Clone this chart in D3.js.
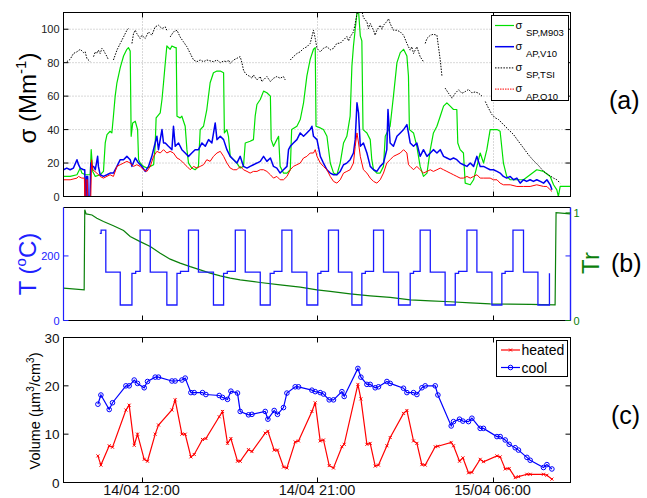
<!DOCTYPE html>
<html><head><meta charset="utf-8">
<script src="https://cdn.jsdelivr.net/npm/d3@7"></script>
<style>body{margin:0;background:#fff}svg{display:block}text{font-family:"Liberation Sans",Arial,sans-serif}</style>
</head><body><svg id="chart" width="647" height="498"></svg>
<script>
// ---------- DATA (time in hours since 14/04 00:00) ----------
const xTickHours = [12, 21, 30];
const sigmaTicks = [0, 20, 40, 60, 80, 100];
const tempTicks = [0, 200];
const trTicks = [0, 1];
const volTicks = [0, 10, 20, 30];

const m903 = [[8.00,12],[8.34,12],[8.69,13],[8.86,17],[8.94,14],[9.11,13],[9.37,13],[9.42,28],[9.50,15],[9.63,12],[9.88,13],[10.05,15],[10.14,32],[10.23,37],[10.39,39],[10.48,38],[10.56,48],[10.65,60],[10.74,68],[10.91,77],[11.08,84],[11.25,88],[11.33,89],[11.42,87],[11.47,36],[11.55,44],[11.68,45],[11.80,40],[11.85,22],[11.93,20],[12.10,18],[12.28,17],[12.45,18],[12.62,19],[12.70,30],[12.75,47],[12.96,50],[13.05,58],[13.13,68],[13.22,80],[13.30,90],[13.47,88],[13.56,90],[13.73,89],[13.78,89],[13.82,48],[13.98,47],[14.07,48],[14.24,42],[14.33,28],[14.41,20],[14.58,17],[14.75,16],[14.92,18],[15.01,40],[15.18,42],[15.35,52],[15.52,68],[15.69,74],[15.87,75],[16.04,75],[16.21,74],[16.25,38],[16.38,40],[16.46,36],[16.55,24],[16.72,22],[16.89,20],[17.06,17],[17.23,18],[17.32,32],[17.57,33],[17.74,34],[17.83,48],[17.92,55],[18.09,58],[18.26,63],[18.43,62],[18.61,60],[18.65,34],[18.77,30],[18.94,34],[19.03,36],[19.11,18],[19.28,14],[19.46,14],[19.63,16],[19.70,40],[19.97,42],[20.14,46],[20.31,56],[20.48,72],[20.65,82],[20.82,88],[20.91,89],[20.95,42],[21.17,41],[21.33,40],[21.51,36],[21.68,20],[21.85,14],[22.02,13],[22.19,20],[22.36,32],[22.53,36],[22.70,48],[22.79,78],[22.87,90],[22.96,100],[23.05,110],[23.13,111],[23.22,96],[23.30,93],[23.36,40],[23.56,38],[23.73,34],[23.81,22],[23.90,16],[24.07,14],[24.24,14],[24.41,18],[24.50,36],[24.67,40],[24.75,42],[24.92,60],[25.10,80],[25.27,86],[25.44,88],[25.61,84],[25.69,72],[25.74,40],[25.95,38],[26.12,30],[26.29,18],[26.46,12],[26.64,14],[26.81,28],[26.97,38],[27.15,42],[27.32,48],[27.49,54],[27.66,56],[27.83,54],[28.00,52],[28.17,52],[28.22,32],[28.34,28],[28.51,26],[28.60,8],[28.86,7],[29.03,10],[29.20,18],[29.37,26],[29.54,20],[29.71,28],[29.88,40],[30.05,40],[30.23,40],[30.39,39],[30.56,20],[30.73,12],[30.91,10],[31.25,10],[31.59,10],[31.93,13],[32.27,16],[32.62,15],[32.96,12],[33.13,7],[33.30,4],[33.38,0],[33.47,6],[33.98,6]];

const v10 = [[8.00,16],[8.17,17],[8.34,16],[8.51,17],[8.69,22],[8.77,19],[8.86,17],[9.03,16],[9.09,16],[9.11,0],[9.16,0],[9.18,12],[9.24,12],[9.26,0],[9.36,0],[9.40,20],[9.46,18],[9.54,18],[9.63,16],[9.75,24],[9.79,18],[9.88,13],[10.05,12],[10.23,13],[10.39,14],[10.56,14],[10.74,18],[10.91,22],[11.08,22],[11.25,24],[11.42,22],[11.51,18],[11.68,23],[11.85,20],[12.02,18],[12.19,15],[12.36,18],[12.53,24],[12.70,32],[12.79,36],[12.87,28],[13.05,40],[13.13,32],[13.22,32],[13.38,30],[13.56,28],[13.64,42],[13.73,30],[13.90,32],[14.07,28],[14.24,26],[14.41,24],[14.58,26],[14.75,28],[14.92,28],[15.10,32],[15.27,30],[15.44,34],[15.61,32],[15.78,44],[15.87,34],[16.04,36],[16.21,34],[16.38,28],[16.55,24],[16.72,22],[16.89,20],[17.06,24],[17.23,18],[17.41,17],[17.57,18],[17.74,19],[17.92,20],[18.09,21],[18.26,24],[18.43,21],[18.61,23],[18.77,18],[18.94,17],[19.11,14],[19.28,16],[19.46,18],[19.54,28],[19.63,30],[19.79,32],[19.97,34],[20.14,38],[20.31,36],[20.48,38],[20.65,40],[20.74,42],[20.82,36],[21.00,34],[21.17,24],[21.33,20],[21.51,16],[21.68,14],[21.85,13],[22.02,13],[22.19,15],[22.36,19],[22.53,20],[22.70,22],[22.87,26],[22.96,34],[23.05,56],[23.13,50],[23.22,30],[23.38,32],[23.56,26],[23.73,18],[23.90,16],[24.07,15],[24.24,18],[24.41,20],[24.58,28],[24.64,52],[24.75,32],[24.92,30],[25.10,36],[25.27,38],[25.44,40],[25.61,43],[25.69,38],[25.78,32],[25.95,30],[26.12,32],[26.29,24],[26.46,28],[26.64,24],[26.81,26],[26.97,28],[27.15,26],[27.32,28],[27.49,24],[27.66,23],[27.83,22],[28.00,23],[28.17,22],[28.34,20],[28.51,19],[28.69,18],[28.86,20],[29.03,18],[29.20,24],[29.28,21],[29.37,18],[29.54,18],[29.71,17],[29.88,16],[30.05,16],[30.23,15],[30.39,14],[30.56,12],[30.73,11],[30.91,12],[31.08,10],[31.25,11],[31.42,8],[31.59,10],[31.75,9],[31.93,10],[32.10,9],[32.27,10],[32.45,9],[32.62,8],[32.79,10],[32.96,7],[33.05,4]];

const tsi = [[8.17,80.6],[8.34,82],[8.51,85.5],[8.69,86.5],[8.86,88],[9.03,86],[9.11,86.5],[9.20,82.5],[9.37,80.6],null,
[9.54,83.6],[9.63,86.5],[9.71,85.5],[9.79,87.5],[9.88,85.5],[9.97,88.5],[10.05,87.5],[10.14,85.5],[10.23,83.6],[10.31,81.6],null,
[10.56,81.6],[10.74,87.5],[10.91,91.5],[11.08,95.4],[11.25,99.4],[11.33,100.4],null,
[11.51,91.5],[11.59,97.4],[11.68,99.4],[11.76,97.4],[11.93,94.5],[12.02,96.4],[12.19,94.5],[12.36,98.4],[12.53,96.4],[12.70,101.4],[12.87,102.4],[13.05,100.4],[13.22,101.4],[13.30,99.4],null,
[13.47,95.4],[13.64,98.4],[13.82,99.4],[13.98,95.4],[14.15,92.5],[14.33,89.5],[14.50,85.5],[14.67,81.6],[14.84,80.6],[15.01,81.6],[15.18,80.6],[15.35,81.6],[15.69,80.6],[15.87,81.6],[16.04,80],[16.21,81],[16.38,80.6],[16.46,81.6],[16.55,79.6],[16.72,81.6],[16.89,82.6],[17.06,83.6],[17.15,80],[17.23,75.6],[17.32,73.7],[17.41,72.7],[17.57,71.7],[17.66,70.7],[17.74,72.7],[17.92,69.7],[18.09,71.7],[18.17,68.7],[18.26,69.7],[18.43,71.7],[18.61,68.7],[18.77,70.7],[18.94,71.7],[19.11,70.7],[19.28,71.7],[19.37,69.7],null,
[19.63,81.6],[19.79,83.6],[19.97,85.5],[20.14,86.5],[20.31,88.5],[20.48,89.5],[20.65,91.5],[20.82,99.4],[20.91,94.5],[21.00,88.5],[21.17,86.5],[21.33,88.6],[21.51,89.6],[21.68,87.7],[21.85,88.6],[22.02,91.6],[22.19,91.6],[22.36,93.6],[22.53,95.6],[22.62,93],[22.70,95.4],[22.79,97],[22.87,98.4],[22.96,103.4],[23.05,109],[23.13,112],[23.22,112],[23.30,111],[23.38,107],[23.56,104.4],[23.64,100.4],[23.73,103.4],[23.90,99.4],[23.98,96.4],[24.07,99.4],[24.24,102.4],[24.33,100],[24.41,102.4],[24.58,104.6],[24.67,106.3],[24.75,103.4],[24.92,99.4],[25.10,99.4],[25.27,98.4],[25.44,96.4],[25.61,91.5],[25.69,89.5],[25.78,87.5],[25.86,89.5],[25.95,85.5],[26.12,89.5],[26.29,83.6],[26.46,80.6],null,
[26.55,91.5],[26.64,94.5],[26.81,96.4],[26.97,97],[27.15,96.4],[27.23,89.5],[27.32,81.6],[27.41,71.7],null,
[27.57,64.8],[27.74,61.8],[27.92,58.8],[28.09,61.7],[28.26,63.8],[28.43,61.7],[28.60,62.7],[28.77,64],[28.94,62],[29.11,62.5],[29.28,61.8],[29.46,60],null,
[29.63,56.8],[29.79,52.9],[29.97,49],[30.14,47],[30.31,46],[30.56,43],[30.82,40],[31.08,37],[31.33,33],[31.59,29],[31.84,25],[32.10,21.5],[32.36,18.5],[32.62,15],[32.87,13],[33.13,11],[33.30,10],[33.47,8]];

const o10 = [[8.00,10],[8.34,10],[8.69,11],[8.77,12],[8.94,11],[9.07,11],[9.09,0],[9.14,0],[9.16,10],[9.22,10],[9.24,0],[9.40,0],[9.44,22],[9.50,16],[9.71,14],[9.88,12],[10.05,11],[10.39,13],[10.56,12],[10.74,18],[10.91,19],[11.08,20],[11.25,21],[11.42,20],[11.59,18],[11.76,19],[11.93,18],[12.10,16],[12.28,15],[12.45,18],[12.62,24],[12.79,27],[12.96,26],[13.13,28],[13.30,26],[13.47,27],[13.64,26],[13.82,23],[13.98,22],[14.15,20],[14.33,18],[14.50,16],[14.67,18],[14.84,17],[15.01,18],[15.18,19],[15.35,22],[15.52,21],[15.69,24],[15.87,26],[16.04,27],[16.21,24],[16.38,20],[16.55,17],[16.72,16],[16.89,16],[17.06,18],[17.23,16],[17.41,15],[17.57,14],[17.74,15],[17.92,15],[18.09,16],[18.26,16],[18.43,15],[18.61,13],[18.77,11],[18.94,12],[19.11,10],[19.28,10],[19.46,12],[19.63,16],[19.79,18],[19.97,19],[20.14,20],[20.31,23],[20.48,24],[20.65,26],[20.82,26],[20.91,28],[21.00,24],[21.17,20],[21.33,18],[21.51,16],[21.68,12],[21.85,9],[22.02,8],[22.19,10],[22.36,14],[22.53,15],[22.70,16],[22.87,20],[22.96,30],[23.05,38],[23.13,32],[23.22,24],[23.38,16],[23.56,14],[23.73,11],[23.90,9],[24.07,8],[24.24,10],[24.41,14],[24.58,20],[24.75,22],[24.92,24],[25.10,25],[25.27,26],[25.44,28],[25.61,26],[25.69,19],[25.78,18],[25.95,16],[26.12,18],[26.29,16],[26.46,14],[26.64,15],[26.81,16],[26.97,15],[27.15,16],[27.32,17],[27.49,16],[27.66,15],[27.83,14],[28.00,13],[28.17,12],[28.34,11],[28.51,11],[28.69,12],[28.86,11],[29.03,12],[29.20,13],[29.37,11],[29.54,11],[29.88,11],[30.05,10],[30.23,10],[30.39,8],[30.56,7],[30.91,7],[31.25,6],[31.59,6],[31.93,6],[32.27,7],[32.62,6],[32.79,6],[32.96,4],[33.05,3]];

// Panel (b): heater temperature (step levels) and transmission
const tempSteps = [[9.86,270],[9.93,280],[10.17,150],[10.91,48],[11.51,146],[11.70,152],
[11.93,280],[12.45,150],[13.30,48],[13.82,146],[14.00,152],
[14.41,280],[14.92,150],[15.69,48],[16.21,146],[16.40,152],
[16.81,280],[17.32,150],[18.09,48],[18.60,146],[18.80,152],
[19.20,280],[19.71,150],[20.48,48],[21.04,146],[21.20,152],
[21.59,280],[22.10,150],[22.79,48],[23.30,146],[23.48,152],
[23.90,280],[24.41,150],[25.18,48],[25.78,146],[25.95,152],
[26.29,280],[26.81,150],[27.57,48],[28.09,146],[28.26,152],
[28.69,280],[29.20,150],[29.97,48],[30.48,146],[30.65,152],
[31.05,280],[31.59,150],[32.33,48],[32.92,146]];

const trans = [[8.00,0.30],[9.06,0.285],[9.09,1.03],[9.16,0.99],[9.46,0.98],[9.71,0.95],[10.05,0.92],[10.56,0.88],[11.08,0.836],[11.42,0.78],[11.93,0.733],[12.45,0.687],[12.96,0.625],[13.47,0.57],[13.98,0.533],[14.50,0.50],[15.01,0.47],[15.52,0.44],[16.04,0.415],[16.55,0.394],[17.06,0.378],[18.09,0.353],[19.11,0.331],[20.14,0.31],[21.00,0.285],[21.68,0.27],[22.70,0.248],[23.73,0.229],[24.75,0.214],[25.78,0.192],[26.81,0.183],[27.83,0.174],[28.86,0.164],[29.88,0.155],[30.91,0.152],[31.93,0.149],[33.21,0.146],[33.26,1.003],[33.98,0.99]];

// Panel (c): volume
const volHours = [9.764,9.918,10.344,10.513,11.200,11.369,11.626,11.795,12.138,12.308,12.703,12.872,13.559,13.728,14.072,14.241,14.533,14.703,15.128,15.303,15.985,16.154,16.410,16.585,16.923,17.062,17.487,17.662,18.344,18.482,18.805,18.974,19.282,19.456,19.882,20.051,20.738,20.908,21.164,21.333,21.626,21.846,22.277,22.395,23.097,23.251,23.559,23.728,23.985,24.154,24.585,24.754,25.436,25.610,25.949,26.123,26.379,26.549,27.062,27.200,27.882,28.000,28.308,28.482,28.769,28.944,29.369,29.538,30.226,30.395,30.651,30.856,31.164,31.333,31.764,31.933,32.615,32.790,33.046];
const cool = [16.2,18.1,15.1,16.5,20.0,20.0,21.2,20.5,19.6,20.9,21.8,21.8,21.0,21.0,21.2,21.6,18.6,18.6,18.6,18.2,18.0,17.6,17.2,18.9,18.5,14.7,14.0,14.1,14.7,13.1,14.9,14.1,15.5,18.5,19.8,19.8,19.1,18.8,18.6,18.3,17.1,17.1,18.8,17.8,23.6,21.8,20.3,20.3,19.6,19.8,20.9,20.5,19.5,18.6,18.6,18.2,19.6,20.0,20.0,18.1,11.7,12.6,13.1,12.7,12.6,13.3,11.2,11.2,9.5,9.5,8.8,7.9,7.2,6.7,5.2,4.6,3.1,3.7,2.8];
const heated = [5.5,3.6,7.6,7.3,15.0,16.0,7.7,10.0,4.8,4.4,10.0,11.9,15.0,17.1,10.0,10.0,5.3,5.8,8.9,9.1,13.6,14.7,8.1,9.1,4.4,4.4,6.8,6.4,10.2,10.6,6.7,6.7,3.2,3.0,8.4,8.6,14.7,16.5,8.6,8.8,3.5,3.0,7.4,7.9,20.3,17.3,7.9,8.1,3.4,3.6,7.6,9.3,14.3,14.9,8.6,8.1,3.7,3.6,7.4,7.5,8.3,7.6,4.4,5.1,2.0,2.1,4.8,4.3,5.5,5.3,2.8,2.9,1.0,1.2,1.7,1.7,1.7,1.5,0.7];

const seriesA = [
  {name:"SP,M903", data:m903, color:"#00e000", width:1.2, dash:null},
  {name:"AP,V10",  data:v10,  color:"#0000f0", width:1.5, dash:null},
  {name:"SP,TSI",  data:tsi,  color:"#000000", width:1.0, dash:"1.5,1.3"},
  {name:"AP,O10",  data:o10,  color:"#ff0000", width:1.0, dash:null}
];

// ---------- SCALES ----------
const base = Date.UTC(2012,3,14);
const T = h => new Date(base + h*3600000);
const x = d3.scaleUtc().domain([T(8),T(34)]).range([63.5,570.5]);
const ya = d3.scaleLinear().domain([0,110]).range([196.5,12.5]);
const ybL = d3.scaleLinear().domain([0,350]).range([320.5,207.5]);
const ybR = d3.scaleLinear().domain([0,1.05]).range([320.5,207.5]);
const yc = d3.scaleLinear().domain([0,30]).range([482.5,337.5]);
const fmt = d3.utcFormat("%d/%m %H:%M");

const svg = d3.select("#chart");
const X0 = x.range()[0], X1 = x.range()[1];
const TL = 5;

function xTicks(yTop, yBot, color){
  xTickHours.forEach(h=>{
    const px = Math.round(x(T(h)))+0.5;
    svg.append("line").attr("x1",px).attr("x2",px).attr("y1",yTop).attr("y2",yTop+TL).attr("stroke",color||"#000");
    svg.append("line").attr("x1",px).attr("x2",px).attr("y1",yBot).attr("y2",yBot-TL).attr("stroke",color||"#000");
  });
}
function yTicks(scale, vals, side, color){
  vals.forEach(v=>{
    const py = scale(v);
    const xa = side==="left"?X0:X1, xb = side==="left"?X0+TL:X1-TL;
    svg.append("line").attr("x1",xa).attr("x2",xb).attr("y1",py).attr("y2",py).attr("stroke",color);
  });
}

// ---------- PANEL A ----------
svg.append("defs").append("clipPath").attr("id","clipA").append("rect")
  .attr("x",X0).attr("y",ya.range()[1]).attr("width",X1-X0).attr("height",ya.range()[0]-ya.range()[1]);
const gA = svg.append("g");
sigmaTicks.filter(v=>v>0).forEach(v=>{
  gA.append("line").attr("x1",X0).attr("x2",X1).attr("y1",ya(v)).attr("y2",ya(v))
    .attr("stroke","#a0a0a0").attr("stroke-width",0.8).attr("stroke-dasharray","1,2");
});
xTickHours.forEach(h=>{
  const px = Math.round(x(T(h)))+0.5;
  gA.append("line").attr("x1",px).attr("x2",px).attr("y1",ya.range()[1]).attr("y2",ya.range()[0])
    .attr("stroke","#a0a0a0").attr("stroke-width",0.8).attr("stroke-dasharray","1,2");
});
const lineA = d3.line().defined(d=>d!==null).x(d=>x(T(d[0]))).y(d=>ya(d[1]));
const gAc = gA.append("g").attr("clip-path","url(#clipA)");
seriesA.forEach(s=>{
  gAc.append("path").attr("d",lineA(s.data)).attr("fill","none").attr("stroke",s.color)
    .attr("stroke-width",s.width).attr("stroke-dasharray",s.dash).attr("stroke-linejoin","round");
});
svg.append("rect").attr("x",X0).attr("y",ya.range()[1]).attr("width",X1-X0).attr("height",ya.range()[0]-ya.range()[1])
  .attr("fill","none").attr("stroke","#000");
xTicks(ya.range()[1], ya.range()[0]);
yTicks(ya, sigmaTicks, "left", "#000");
yTicks(ya, sigmaTicks, "right", "#000");
sigmaTicks.forEach(v=>{
  svg.append("text").attr("x",X0-4).attr("y",ya(v)+4).attr("text-anchor","end").attr("font-size",11).attr("fill","#222").text(v);
});
svg.append("text").attr("transform","translate(36,98) rotate(-90)").attr("text-anchor","middle").attr("font-size",24)
  .html('σ (Mm<tspan dy="-10" font-size="15">-1</tspan><tspan dy="10">)</tspan>');
const lgA = svg.append("g");
lgA.append("rect").attr("x",491.5).attr("y",15.5).attr("width",77).attr("height",85).attr("fill","#fff").attr("stroke","#000");
seriesA.forEach((s,i)=>{
  const ly = 25.5 + i*21.2;
  lgA.append("line").attr("x1",495).attr("x2",514).attr("y1",ly).attr("y2",ly).attr("stroke",s.color)
    .attr("stroke-width",s.width).attr("stroke-dasharray",s.dash || (i===3?"1.5,1":null));
  lgA.append("text").attr("x",515.5).attr("y",ly+3).attr("font-size",11).text("σ");
  lgA.append("text").attr("x",526).attr("y",ly+10.5).attr("font-size",9.5).text(s.name);
});
svg.append("text").attr("x",609).attr("y",109).attr("font-family","DejaVu Sans").attr("font-size",25).text("(a)");

// ---------- PANEL B ----------
const yb0 = ybL.range()[0], yb1 = ybL.range()[1];
const lineT = d3.line().curve(d3.curveStepAfter).x(d=>x(T(d[0]))).y(d=>ybL(d[1]));
const lineTr = d3.line().x(d=>x(T(d[0]))).y(d=>ybR(d[1]));
svg.append("path").attr("d",lineTr(trans)).attr("fill","none").attr("stroke","#0a800a").attr("stroke-width",1.2);
svg.append("path").attr("d",lineT(tempSteps)).attr("fill","none").attr("stroke","#1a1aff").attr("stroke-width",1.3);
svg.append("line").attr("x1",X0).attr("x2",X1).attr("y1",yb1).attr("y2",yb1).attr("stroke","#000");
svg.append("line").attr("x1",X0).attr("x2",X1).attr("y1",yb0).attr("y2",yb0).attr("stroke","#000");
svg.append("line").attr("x1",X0).attr("x2",X0).attr("y1",yb1).attr("y2",yb0).attr("stroke","#2020ff").attr("stroke-width",1.2);
svg.append("line").attr("x1",X1).attr("x2",X1).attr("y1",yb1).attr("y2",yb0).attr("stroke","#2020ff").attr("stroke-width",1.4);
xTicks(yb1, yb0);
yTicks(ybL, tempTicks, "left", "#2020ff");
yTicks(ybL, tempTicks, "right", "#2020ff");
yTicks(ybR, trTicks, "right", "#0a800a");
tempTicks.forEach(v=>{
  svg.append("text").attr("x",X0-4).attr("y",ybL(v)+4).attr("text-anchor","end").attr("font-size",11).attr("fill","#2020ff").text(v);
});
trTicks.forEach(v=>{
  svg.append("text").attr("x",X1+3).attr("y",ybR(v)+4).attr("text-anchor","start").attr("font-size",11).attr("fill","#0a800a").text(v);
});
svg.append("text").attr("transform","translate(36,264) rotate(-90)").attr("text-anchor","middle").attr("font-size",24).attr("fill","#2020ff")
  .html('T (<tspan dy="-10" font-size="15">o</tspan><tspan dy="10">C)</tspan>');
svg.append("text").attr("transform","translate(599,263) rotate(-90)").attr("text-anchor","middle").attr("font-size",24).attr("fill","#0a800a").text("Tr");
svg.append("text").attr("x",611).attr("y",272).attr("font-family","DejaVu Sans").attr("font-size",25).text("(b)");

// ---------- PANEL C ----------
const yc0 = yc.range()[0], yc1 = yc.range()[1];
const volData = volHours.map((h,i)=>({t:T(h), heated:heated[i], cool:cool[i]}));
const lineH = d3.line().x(d=>x(d.t)).y(d=>yc(d.heated));
const lineC = d3.line().x(d=>x(d.t)).y(d=>yc(d.cool));
svg.append("path").attr("d",lineC(volData)).attr("fill","none").attr("stroke","#0000ff").attr("stroke-width",1.2);
svg.append("path").attr("d",lineH(volData)).attr("fill","none").attr("stroke","#ff0000").attr("stroke-width",1.2);
svg.selectAll(".cm").data(volData).join("circle").attr("cx",d=>x(d.t)).attr("cy",d=>yc(d.cool)).attr("r",2.3)
  .attr("fill","none").attr("stroke","#0000ff").attr("stroke-width",1);
svg.selectAll(".hm").data(volData).join("path")
  .attr("transform",d=>`translate(${x(d.t)},${yc(d.heated)})`).attr("d","M-1.5,-1.5L1.5,1.5M-1.5,1.5L1.5,-1.5")
  .attr("stroke","#ff0000").attr("stroke-width",1);
svg.append("rect").attr("x",X0).attr("y",yc1).attr("width",X1-X0).attr("height",yc0-yc1).attr("fill","none").attr("stroke","#000");
xTicks(yc1, yc0);
yTicks(yc, volTicks, "left", "#000");
yTicks(yc, volTicks, "right", "#000");
volTicks.forEach(v=>{
  svg.append("text").attr("x",X0-4).attr("y",yc(v)+5).attr("text-anchor","end").attr("font-size",13.5).attr("fill","#111").text(v);
});
xTickHours.forEach(h=>{
  svg.append("text").attr("x",x(T(h))).attr("y",495).attr("text-anchor","middle").attr("font-size",14.5).attr("fill","#111").text(fmt(T(h)));
});
svg.append("text").attr("transform","translate(40,411) rotate(-90)").attr("text-anchor","middle").attr("font-size",14.5)
  .html('Volume (µm<tspan dy="-6" font-size="10">3</tspan><tspan dy="6">/cm</tspan><tspan dy="-6" font-size="10">3</tspan><tspan dy="6">)</tspan>');
const lgC = svg.append("g");
lgC.append("rect").attr("x",496.5).attr("y",340.5).attr("width",71).attr("height",36).attr("fill","#fff").attr("stroke","#000");
[{n:"heated",c:"#ff0000",y:350},{n:"cool",c:"#0000ff",y:367.5}].forEach((e,i)=>{
  lgC.append("line").attr("x1",501).attr("x2",520).attr("y1",e.y).attr("y2",e.y).attr("stroke",e.c).attr("stroke-width",1.2);
  if(i===0) lgC.append("path").attr("transform",`translate(510.5,${e.y})`).attr("d","M-1.5,-1.5L1.5,1.5M-1.5,1.5L1.5,-1.5").attr("stroke",e.c);
  else lgC.append("circle").attr("cx",510.5).attr("cy",e.y).attr("r",2.3).attr("fill","none").attr("stroke",e.c);
  lgC.append("text").attr("x",521.5).attr("y",e.y+5).attr("font-size",14).text(e.n);
});
svg.append("text").attr("x",611).attr("y",424).attr("font-family","DejaVu Sans").attr("font-size",25).text("(c)");
</script></body></html>
